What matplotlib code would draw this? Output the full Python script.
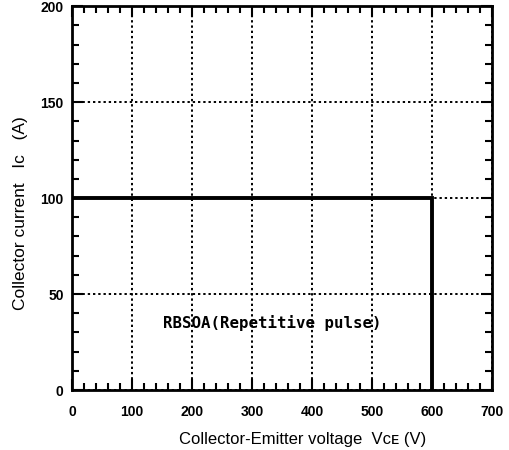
import matplotlib.pyplot as plt
from matplotlib.ticker import MultipleLocator

# RBSOA boundary
vce = [0, 600, 600]
ic = [100, 100, 0]

xticks = [0, 100, 200, 300, 400, 500, 600, 700]
yticks = [0, 50, 100, 150, 200]

fig = plt.figure(figsize=(5.09, 4.5), dpi=100)
ax = fig.add_axes([0.1415, 0.1333, 0.825, 0.853])

ax.plot(vce, ic, color='k', lw=2.8, solid_capstyle='butt', solid_joinstyle='miter')

ax.set_xlim(0, 700)
ax.set_ylim(0, 200)
ax.set_xticks(xticks)
ax.set_yticks(yticks)
ax.xaxis.set_minor_locator(MultipleLocator(20))
ax.yaxis.set_minor_locator(MultipleLocator(10))
ax.tick_params(which='both', direction='in', top=True, right=True, width=1.5, colors='k')
ax.tick_params(which='major', length=8)
ax.tick_params(which='minor', length=5)
ax.tick_params(axis='x', which='major', pad=11)
ax.tick_params(axis='y', which='major', pad=6)
for lab in ax.get_xticklabels() + ax.get_yticklabels():
    lab.set_fontfamily(['Liberation Sans Narrow', 'Liberation Sans'])
    lab.set_fontweight('bold')
    lab.set_fontsize(10)

for s in ax.spines.values():
    s.set_linewidth(2)

ax.grid(True, which='major', color='k', linestyle=(0, (1.2, 1.5)), linewidth=1.4)

ax.text(334, 35, 'RBSOA(Repetitive pulse)', family='DejaVu Sans Mono', fontweight='bold',
        fontsize=11.3, ha='center', va='center')

ax.set_xlabel('Collector-Emitter voltage  V\u1d04\u1d07 (V)', family=['Liberation Sans', 'DejaVu Sans'],
              fontsize=12)
ax.xaxis.set_label_coords(0.55, -0.11)
ax.set_ylabel('Collector current   Ic   (A)', family='Liberation Sans', fontsize=12.5)
ax.yaxis.set_label_coords(-0.105, 0.46)

fig.savefig('out.png', dpi=100)
